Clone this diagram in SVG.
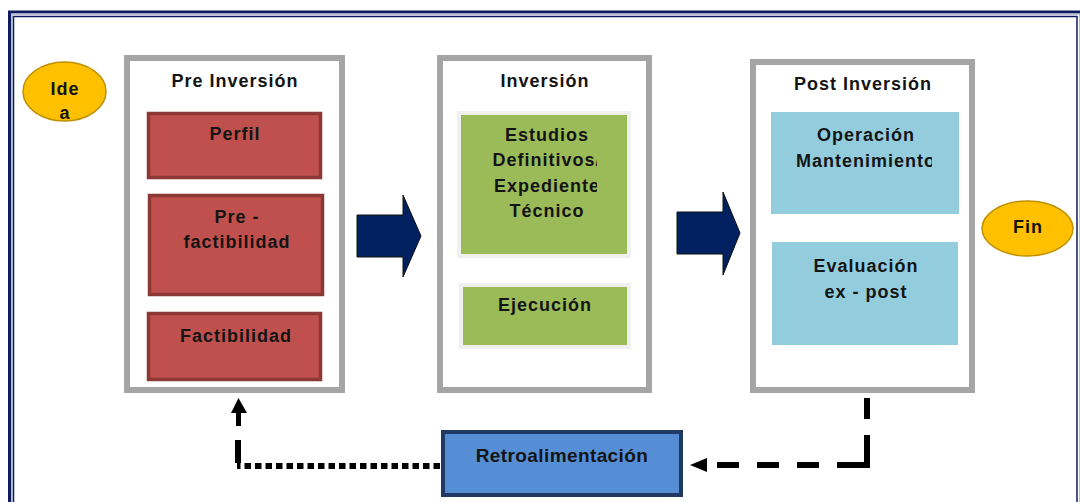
<svg xmlns="http://www.w3.org/2000/svg" width="1080" height="502" viewBox="0 0 1080 502">
<style>
.t{font-family:"Liberation Sans",Arial,sans-serif;font-weight:bold;font-size:18px;fill:#141414;text-anchor:middle;letter-spacing:1px}
.stage{fill:#fff;stroke:#a5a5a5;stroke-width:6}
.red{fill:#c0504d;stroke:#8c3836;stroke-width:3.5}
.green{fill:#9bbb59;stroke:#f0f0f0;stroke-width:4}
.blue{fill:#93cddd}
.oval{fill:#ffc000;stroke:#bf9000;stroke-width:1.5}
.big{fill:#002060;stroke:#111;stroke-width:1}
.dash{fill:none;stroke:#000;stroke-width:6}
</style>
<defs>
<clipPath id="c1"><rect x="440" y="100" width="157" height="160"/></clipPath>
<clipPath id="c2"><rect x="760" y="100" width="172" height="120"/></clipPath>
</defs>
<rect width="1080" height="502" fill="#fff"/>
<g id="frame" fill="none">
<rect x="9.5" y="12" width="1090" height="520" stroke="#0e1b5e" stroke-width="3"/>
<rect x="11.75" y="14.25" width="1068" height="520" stroke="#b7bfd9" stroke-width="1.5"/>
<rect x="13.5" y="16.5" width="1063.5" height="520" stroke="#0e1b5e" stroke-width="1.5"/>
</g>
<g id="idea">
<ellipse class="oval" cx="64.5" cy="91.5" rx="41.5" ry="29.5"/>
<text class="t" x="65" y="95">Ide</text>
<text class="t" x="65" y="119">a</text>
</g>
<g id="preinversion">
<rect class="stage" x="127" y="58" width="215" height="332"/>
<text class="t" x="235" y="87">Pre Inversión</text>
</g>
<g id="perfil">
<rect class="red" x="148.5" y="113.5" width="172" height="64"/>
<text class="t" x="235" y="140">Perfil</text>
</g>
<g id="prefactibilidad">
<rect class="red" x="149.5" y="195.5" width="173" height="99"/>
<text class="t" x="237" y="223">Pre -</text>
<text class="t" x="237" y="248">factibilidad</text>
</g>
<g id="factibilidad">
<rect class="red" x="148.5" y="313.5" width="172" height="66"/>
<text class="t" x="236" y="342">Factibilidad</text>
</g>
<g id="inversion">
<rect class="stage" x="440" y="58" width="209" height="332"/>
<text class="t" x="545" y="87">Inversión</text>
</g>
<g id="estudios">
<rect class="green" x="459" y="113" width="170" height="143"/>
<g clip-path="url(#c1)">
<text class="t" x="547" y="141">Estudios</text>
<text class="t" x="547" y="166">Definitivos/</text>
<text class="t" x="547" y="192">Expediente</text>
<text class="t" x="547" y="217">Técnico</text>
</g>
</g>
<g id="ejecucion">
<rect class="green" x="461" y="285" width="168" height="62"/>
<text class="t" x="545" y="311">Ejecución</text>
</g>
<g id="postinversion">
<rect class="stage" x="753" y="62" width="219" height="328"/>
<text class="t" x="863" y="90">Post Inversión</text>
</g>
<g id="operacion">
<rect class="blue" x="771" y="112" width="188" height="102"/>
<g clip-path="url(#c2)">
<text class="t" x="866" y="141">Operación</text>
<text class="t" x="866" y="167">Mantenimiento</text>
</g>
</g>
<g id="evaluacion">
<rect class="blue" x="772" y="242" width="186" height="103"/>
<text class="t" x="866" y="272">Evaluación</text>
<text class="t" x="866" y="298">ex - post</text>
</g>
<g id="fin">
<ellipse class="oval" cx="1027.5" cy="228.5" rx="45.5" ry="27.5"/>
<text class="t" x="1028" y="233">Fin</text>
</g>
<g id="retroalimentacion">
<rect x="443" y="432" width="238" height="63" fill="#558ed5" stroke="#1f3864" stroke-width="4"/>
<text class="t" x="562" y="462" style="font-size:19px;letter-spacing:0.4px">Retroalimentación</text>
</g>
<g id="connectors">
<polygon class="big" points="357,215 403,215 403,195 421,236 403,277 403,257 357,257"/>
<polygon class="big" points="677,212 723,212 723,192 740,233 723,275 723,254 677,254"/>
<path class="dash" d="M867,398V419"/>
<path class="dash" d="M867,435V465H837"/>
<path class="dash" d="M819,465H797M779,465H757M739,465H717"/>
<polygon points="690,465 707,458 707,472" fill="#000"/>
<path d="M440,466H237" fill="none" stroke="#000" stroke-width="6" stroke-dasharray="6.5 4"/>
<path class="dash" d="M238,440V463"/>
<path d="M238.5,413V426" fill="none" stroke="#000" stroke-width="5"/>
<polygon points="238.5,398 231,413 247,413" fill="#000"/>
</g>
</svg>
